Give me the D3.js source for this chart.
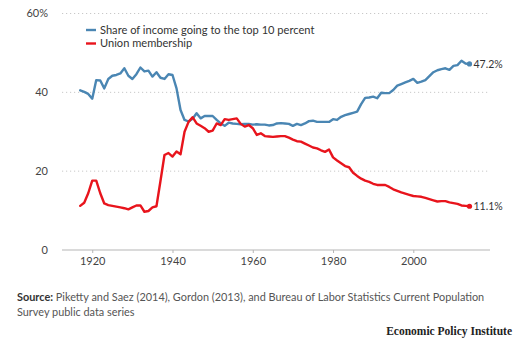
<!DOCTYPE html>
<html>
<head>
<meta charset="utf-8">
<script src="https://cdn.jsdelivr.net/npm/d3@7"></script>
<style>
  html, body { margin: 0; padding: 0; background: #fff; }
  svg { display: block; font-family: Lato, "Open Sans", sans-serif; }
</style>
</head>
<body>
<svg id="chart" width="515" height="341"></svg>
<script>
const years = d3.range(1917, 2015);
const topTenShare = [
  40.5, 40.1, 39.6, 38.4, 43.1, 43.0, 41.0, 43.4, 44.2, 44.4,
  44.8, 46.1, 44.2, 43.4, 44.6, 46.3, 45.3, 45.5, 44.0, 45.1,
  43.7, 43.4, 44.6, 44.4, 41.0, 35.5, 33.0, 32.6, 33.3, 34.7,
  33.4, 34.0, 34.0, 34.0, 33.0, 32.1, 31.5, 32.3, 32.1, 32.0,
  31.9, 32.0, 32.0, 31.8, 31.9, 31.8, 31.8, 31.6, 31.7, 32.1,
  32.2, 32.1, 32.0, 31.5, 32.0, 31.7, 32.1, 32.7, 32.8, 32.5,
  32.5, 32.5, 32.5, 33.2, 33.0, 33.8, 34.2, 34.5, 34.8, 35.1,
  37.0, 38.6, 38.7, 38.9, 38.5, 39.9, 39.8, 39.8, 40.6, 41.7,
  42.1, 42.5, 42.9, 43.4, 42.4, 42.7, 43.1, 44.1, 45.1, 45.6,
  45.9, 46.1, 45.7, 46.7, 46.9, 48.0, 47.3, 47.2
];
const unionMembership = [
  11.2, 12.0, 14.4, 17.6, 17.6, 14.4, 11.8, 11.4, 11.2, 11.0,
  10.8, 10.6, 10.3, 10.8, 11.3, 11.3, 9.7, 9.9, 10.8, 11.1,
  17.5, 24.1, 24.6, 23.7, 25.0, 24.3, 30.0, 32.5, 33.7, 32.1,
  31.5, 30.9, 30.0, 30.3, 32.1, 31.7, 33.2, 33.0, 33.2, 33.4,
  32.0, 31.3, 31.7, 30.9, 29.2, 29.6, 28.9, 28.8, 28.7, 28.8,
  28.9, 28.9, 28.5, 28.0, 27.6, 27.5, 27.0, 26.5, 26.0, 25.8,
  25.3, 24.9, 25.5, 23.5, 22.7, 22.0, 21.3, 21.0, 19.6, 18.8,
  18.1, 17.6, 17.3, 16.8, 16.5, 16.5, 16.5, 16.0, 15.4, 15.0,
  14.6, 14.3, 14.0, 13.7, 13.6, 13.5, 13.2, 12.9, 12.6, 12.3,
  12.4, 12.4, 12.1, 11.9, 11.7, 11.3, 11.2, 11.1
];
const yTicks = [0, 20, 40, 60];
const xTicks = [1920, 1940, 1960, 1980, 2000];
const seriesNames = ["Share of income going to the top 10 percent", "Union membership"];
const seriesColors = ["#4a86b3", "#e8141c"];
const endLabels = ["47.2%", "11.1%"];

const svg = d3.select("#chart");
const x = d3.scaleLinear().domain([1917, 2014]).range([80.2, 469.5]);
const y = d3.scaleLinear().domain([0, 60]).range([250, 13.5]);

// gridlines
const gridG = svg.append("g");
yTicks.filter(t => t !== 0).forEach(t => {
  gridG.append("line")
    .attr("x1", 62).attr("x2", 490)
    .attr("y1", y(t)).attr("y2", y(t))
    .attr("stroke", "#c8c8c8").attr("stroke-width", 1)
    .attr("stroke-dasharray", "1.2,2.8");
});
// zero line
svg.append("line")
  .attr("x1", 62).attr("x2", 490)
  .attr("y1", y(0)).attr("y2", y(0))
  .attr("stroke", "#b5b5b5").attr("stroke-width", 1);

// y labels
svg.append("g").selectAll("text").data(yTicks).join("text")
  .attr("x", 48).attr("y", d => y(d))
  .attr("dy", "0.35em")
  .attr("text-anchor", "end")
  .attr("font-size", 11)
  .attr("fill", "#444")
  .text(d => d === 60 ? d + "%" : d);

// x axis ticks
const xAxis = d3.axisBottom(x).tickValues(xTicks).tickFormat(d3.format("d")).tickSize(3).tickPadding(4);
const xg = svg.append("g").attr("transform", `translate(0,${y(0)})`).call(xAxis);
xg.select(".domain").remove();
xg.selectAll(".tick line").attr("stroke", "#b5b5b5");
xg.selectAll(".tick text").attr("font-size", 11).attr("fill", "#444").attr("font-family", "Lato, 'Open Sans', sans-serif");

// lines
const series = [topTenShare, unionMembership];
const line = d3.line().x((d, i) => x(years[i])).y(d => y(d));
series.forEach((vals, si) => {
  svg.append("path")
    .attr("d", line(vals))
    .attr("fill", "none")
    .attr("stroke", seriesColors[si])
    .attr("stroke-width", 2.4)
    .attr("stroke-linejoin", "round")
    .attr("stroke-linecap", "round");
  const last = vals[vals.length - 1];
  svg.append("circle")
    .attr("cx", x(years[years.length - 1])).attr("cy", y(last))
    .attr("r", 2.6).attr("fill", seriesColors[si]);
  svg.append("text")
    .attr("x", x(years[years.length - 1]) + 4).attr("y", y(last))
    .attr("dy", "0.35em")
    .attr("font-size", 10.5).attr("fill", "#333")
    .text(endLabels[si]);
});

// legend
const legend = svg.append("g");
seriesNames.forEach((name, i) => {
  const ly = 30 + i * 13.5;
  legend.append("line")
    .attr("x1", 86).attr("x2", 96).attr("y1", ly).attr("y2", ly)
    .attr("stroke", seriesColors[i]).attr("stroke-width", 2.4);
  legend.append("text")
    .attr("x", 100).attr("y", ly).attr("dy", "0.35em")
    .attr("font-size", 11.1).attr("fill", "#333")
    .text(name);
});

// source
const src = svg.append("text").attr("x", 17).attr("y", 301)
  .attr("font-size", 10.9).attr("fill", "#555");
src.append("tspan").attr("font-weight", "bold").attr("fill", "#333").text("Source:");
src.append("tspan").text(" Piketty and Saez (2014), Gordon (2013), and Bureau of Labor Statistics Current Population");
svg.append("text").attr("x", 17).attr("y", 316)
  .attr("font-size", 10.9).attr("fill", "#555")
  .text("Survey public data series");

svg.append("text").attr("x", 512).attr("y", 335)
  .attr("text-anchor", "end")
  .attr("font-family", "'Liberation Serif', 'DejaVu Serif', serif")
  .attr("font-weight", "bold")
  .attr("font-size", 11.5).attr("fill", "#222")
  .text("Economic Policy Institute");
</script>
</body>
</html>
